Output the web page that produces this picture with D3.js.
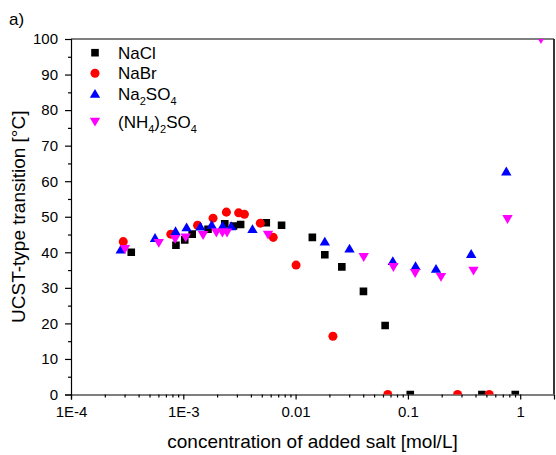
<!DOCTYPE html>
<html>
<head>
<meta charset="utf-8">
<script src="https://cdn.jsdelivr.net/npm/d3@7/dist/d3.min.js"></script>
<style>
  body { margin: 0; background: #fff; }
  svg { display: block; }
  text { font-family: "Liberation Sans", Arial, sans-serif; fill: #000; }
</style>
</head>
<body>
<svg id="chart" width="556" height="455"></svg>
<script>
// ---- data ----
const naclX = [3.44e-4, 8.6e-4, 1.03e-3, 1.2e-3, 1.66e-3, 2.34e-3, 2.8e-3, 3.24e-3, 5.48e-3, 7.5e-3, 0.0141, 0.0182, 0.0258, 0.0402, 0.0627, 0.105, 0.456, 0.904];
const naclY = [40.0, 42.0, 43.5, 45.1, 46.5, 48.0, 47.4, 47.8, 48.3, 47.6, 44.2, 39.3, 35.9, 29.0, 19.4, 0, 0, 0];

const nabrX = [2.92e-4, 7.74e-4, 1.34e-3, 1.84e-3, 2.42e-3, 3.11e-3, 3.50e-3, 4.85e-3, 6.32e-3, 0.0101, 0.0215, 0.0662, 0.277, 0.530];
const nabrY = [43.0, 45.1, 47.6, 49.6, 51.3, 51.1, 50.7, 48.2, 44.2, 36.4, 16.4, 0, 0, 0];

const na2so4X = [2.77e-4, 5.6e-4, 8.53e-4, 1.07e-3, 1.42e-3, 1.79e-3, 2.24e-3, 2.67e-3, 4.13e-3, 0.0182, 0.0302, 0.0734, 0.117, 0.178, 0.366, 0.752];
const na2so4Y = [40.7, 44.0, 45.9, 47.0, 47.2, 47.7, 47.4, 47.3, 46.5, 43.0, 41.0, 37.5, 36.1, 35.3, 39.5, 62.7];

const nh4X = [3.02e-4, 6.05e-4, 8.46e-4, 1.05e-3, 1.50e-3, 1.97e-3, 2.23e-3, 2.45e-3, 5.68e-3, 0.0404, 0.0743, 0.116, 0.197, 0.384, 0.771, 1.53];
const nh4Y = [41.0, 42.7, 43.8, 44.2, 44.9, 45.6, 45.6, 45.6, 45.0, 38.7, 35.9, 34.2, 33.1, 34.9, 49.4, 100];

const xTickVals = [1e-4, 1e-3, 1e-2, 1e-1, 1];
const xTickLabels = ["1E-4", "1E-3", "0.01", "0.1", "1"];
const yTickVals = [0, 10, 20, 30, 40, 50, 60, 70, 80, 90, 100];

const seriesNames = ["NaCl", "NaBr", "Na2SO4", "(NH4)2SO4"];
const seriesColors = ["#000000", "#ff0000", "#0000ff", "#ff00ff"];
const seriesShapes = ["square", "circle", "triangle", "triangleDown"];

// ---- layout ----
const svg = d3.select("#chart");
const L = 71, R = 554, T = 39, B = 394.5;

const x = d3.scaleLog().domain([1e-4, 2]).range([L, R]);
const y = d3.scaleLinear().domain([0, 100]).range([B, T]);

// minor x ticks
const xMinor = [];
for (let e = -4; e <= 0; e++) {
  for (let m = 2; m <= 9; m++) {
    const v = m * Math.pow(10, e);
    if (v < 2) xMinor.push(v);
  }
}
const yMinor = d3.range(5, 100, 10);

// axes
svg.append("g").attr("transform", `translate(0,${B})`)
  .call(d3.axisBottom(x).tickValues(xTickVals).tickFormat((d, i) => xTickLabels[i]).tickSize(5).tickPadding(7));
svg.append("g").attr("transform", `translate(0,${B})`)
  .call(d3.axisBottom(x).tickValues(xMinor).tickFormat("").tickSize(3))
  .call(g => g.select(".domain").remove());

svg.append("g").attr("transform", `translate(${L},0)`)
  .call(d3.axisLeft(y).tickValues(yTickVals).tickFormat(d3.format("d")).tickSize(6).tickPadding(7));
svg.append("g").attr("transform", `translate(${L},0)`)
  .call(d3.axisLeft(y).tickValues(yMinor).tickFormat("").tickSize(3))
  .call(g => g.select(".domain").remove());

svg.selectAll(".tick text").style("font-size", "15px").style("font-family", "'Liberation Sans', Arial, sans-serif");
svg.selectAll(".domain, .tick line").attr("stroke", "#000").attr("stroke-width", 1.2);

// frame top & right
svg.append("line").attr("x1", L).attr("x2", R).attr("y1", T).attr("y2", T).attr("stroke", "#000").attr("stroke-width", 1.2);
svg.append("line").attr("x1", R).attr("x2", R).attr("y1", T).attr("y2", B).attr("stroke", "#222").attr("stroke-width", 1.8);

// clip
svg.append("clipPath").attr("id", "clip").append("rect")
  .attr("x", L).attr("y", T).attr("width", R - L).attr("height", B - T);

function symbolPath(shape) {
  switch (shape) {
    case "square": return "M-3.8,-3.8H3.8V3.8H-3.8Z";
    case "circle": return d3.symbol(d3.symbolCircle, 64)();
    case "triangle": return "M0,-5L5.2,3.8H-5.2Z";
    case "triangleDown": return "M0,5L5.2,-3.8H-5.2Z";
  }
}

const plot = svg.append("g").attr("clip-path", "url(#clip)");
const allX = [naclX, nabrX, na2so4X, nh4X];
const allY = [naclY, nabrY, na2so4Y, nh4Y];
allX.forEach((xs, s) => {
  const pts = xs.map((v, i) => [v, allY[s][i]]);
  plot.append("g").selectAll("path").data(pts).join("path")
    .attr("d", symbolPath(seriesShapes[s]))
    .attr("transform", d => `translate(${x(d[0])},${y(d[1])})`)
    .attr("fill", seriesColors[s]);
});

// legend
const legY = [52.7, 73.3, 94, 121.5];
const leg = svg.append("g");
seriesNames.forEach((name, i) => {
  leg.append("path").attr("d", symbolPath(seriesShapes[i]))
    .attr("transform", `translate(95,${legY[i]})`).attr("fill", seriesColors[i]);
  const t = leg.append("text").attr("x", 118).attr("y", legY[i] + 6).style("font-size", "17px");
  if (name === "NaCl" || name === "NaBr") {
    t.text(name);
  } else if (name === "Na2SO4") {
    t.append("tspan").text("Na");
    t.append("tspan").text("2").style("font-size", "11px").attr("dy", 5);
    t.append("tspan").text("SO").attr("dy", -5);
    t.append("tspan").text("4").style("font-size", "11px").attr("dy", 5);
  } else {
    t.append("tspan").text("(NH");
    t.append("tspan").text("4").style("font-size", "11px").attr("dy", 5);
    t.append("tspan").text(")").attr("dy", -5);
    t.append("tspan").text("2").style("font-size", "11px").attr("dy", 5);
    t.append("tspan").text("SO").attr("dy", -5);
    t.append("tspan").text("4").style("font-size", "11px").attr("dy", 5);
  }
});

// axis titles
svg.append("text").attr("x", (L + R) / 2).attr("y", 448).attr("text-anchor", "middle")
  .style("font-size", "19px").text("concentration of added salt [mol/L]");
svg.append("text").attr("transform", `translate(25,${(T + B) / 2}) rotate(-90)`).attr("text-anchor", "middle")
  .style("font-size", "19px").text("UCST-type transition [°C]");
svg.append("text").attr("x", 9).attr("y", 25).style("font-size", "17px").text("a)");
</script>
</body>
</html>
